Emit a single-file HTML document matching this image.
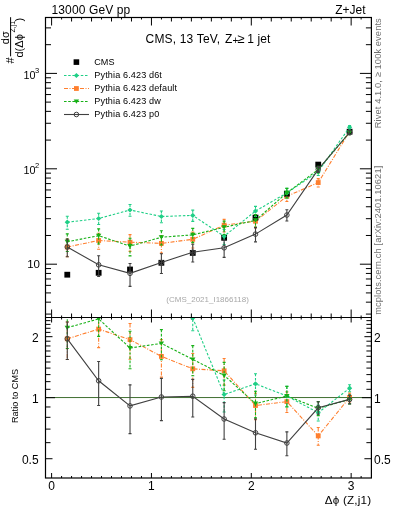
<!DOCTYPE html>
<html><head><meta charset="utf-8"><style>
html,body{margin:0;padding:0;background:#fff;width:393px;height:512px;overflow:hidden}
svg{display:block;will-change:transform}
text{font-family:"Liberation Sans", sans-serif}
</style></head><body>
<svg width="393" height="512" viewBox="0 0 393 512">
<defs>
<clipPath id="cm"><rect x="45.5" y="17.5" width="325.9" height="300.0"/></clipPath>
<clipPath id="cr"><rect x="45.5" y="317.5" width="325.9" height="160.5"/></clipPath>
</defs>
<rect width="393" height="512" fill="#fff"/>
<line x1="45.5" y1="397.55" x2="371.4" y2="397.55" stroke="#3f6f30" stroke-width="1"/>
<path d="M51.60,17.5v8M51.60,317.5v-8M51.60,317.5v5M51.60,478.0v-5M61.59,17.5v2M61.59,317.5v-2M61.59,317.5v2M61.59,478.0v-2M71.57,17.5v4M71.57,317.5v-4M71.57,317.5v2M71.57,478.0v-2M81.56,17.5v2M81.56,317.5v-2M81.56,317.5v2M81.56,478.0v-2M91.54,17.5v4M91.54,317.5v-4M91.54,317.5v2M91.54,478.0v-2M101.53,17.5v2M101.53,317.5v-2M101.53,317.5v2M101.53,478.0v-2M111.51,17.5v4M111.51,317.5v-4M111.51,317.5v2M111.51,478.0v-2M121.50,17.5v2M121.50,317.5v-2M121.50,317.5v2M121.50,478.0v-2M131.48,17.5v4M131.48,317.5v-4M131.48,317.5v2M131.48,478.0v-2M141.47,17.5v2M141.47,317.5v-2M141.47,317.5v2M141.47,478.0v-2M151.45,17.5v8M151.45,317.5v-8M151.45,317.5v5M151.45,478.0v-5M161.44,17.5v2M161.44,317.5v-2M161.44,317.5v2M161.44,478.0v-2M171.42,17.5v4M171.42,317.5v-4M171.42,317.5v2M171.42,478.0v-2M181.41,17.5v2M181.41,317.5v-2M181.41,317.5v2M181.41,478.0v-2M191.39,17.5v4M191.39,317.5v-4M191.39,317.5v2M191.39,478.0v-2M201.37,17.5v2M201.37,317.5v-2M201.37,317.5v2M201.37,478.0v-2M211.36,17.5v4M211.36,317.5v-4M211.36,317.5v2M211.36,478.0v-2M221.34,17.5v2M221.34,317.5v-2M221.34,317.5v2M221.34,478.0v-2M231.33,17.5v4M231.33,317.5v-4M231.33,317.5v2M231.33,478.0v-2M241.31,17.5v2M241.31,317.5v-2M241.31,317.5v2M241.31,478.0v-2M251.30,17.5v8M251.30,317.5v-8M251.30,317.5v5M251.30,478.0v-5M261.29,17.5v2M261.29,317.5v-2M261.29,317.5v2M261.29,478.0v-2M271.27,17.5v4M271.27,317.5v-4M271.27,317.5v2M271.27,478.0v-2M281.25,17.5v2M281.25,317.5v-2M281.25,317.5v2M281.25,478.0v-2M291.24,17.5v4M291.24,317.5v-4M291.24,317.5v2M291.24,478.0v-2M301.23,17.5v2M301.23,317.5v-2M301.23,317.5v2M301.23,478.0v-2M311.21,17.5v4M311.21,317.5v-4M311.21,317.5v2M311.21,478.0v-2M321.20,17.5v2M321.20,317.5v-2M321.20,317.5v2M321.20,478.0v-2M331.18,17.5v4M331.18,317.5v-4M331.18,317.5v2M331.18,478.0v-2M341.17,17.5v2M341.17,317.5v-2M341.17,317.5v2M341.17,478.0v-2M351.15,17.5v8M351.15,317.5v-8M351.15,317.5v5M351.15,478.0v-5M361.13,17.5v2M361.13,317.5v-2M361.13,317.5v2M361.13,478.0v-2M45.5,314.08h5.5M371.4,314.08h-5.5M45.5,302.16h5.5M371.4,302.16h-5.5M45.5,292.92h5.5M371.4,292.92h-5.5M45.5,285.36h5.5M371.4,285.36h-5.5M45.5,278.98h5.5M371.4,278.98h-5.5M45.5,273.45h5.5M371.4,273.45h-5.5M45.5,268.57h5.5M371.4,268.57h-5.5M45.5,264.20h11.5M371.4,264.20h-11.5M45.5,235.48h5.5M371.4,235.48h-5.5M45.5,218.68h5.5M371.4,218.68h-5.5M45.5,206.76h5.5M371.4,206.76h-5.5M45.5,197.52h5.5M371.4,197.52h-5.5M45.5,189.96h5.5M371.4,189.96h-5.5M45.5,183.58h5.5M371.4,183.58h-5.5M45.5,178.05h5.5M371.4,178.05h-5.5M45.5,173.17h5.5M371.4,173.17h-5.5M45.5,168.80h11.5M371.4,168.80h-11.5M45.5,140.08h5.5M371.4,140.08h-5.5M45.5,123.28h5.5M371.4,123.28h-5.5M45.5,111.36h5.5M371.4,111.36h-5.5M45.5,102.12h5.5M371.4,102.12h-5.5M45.5,94.56h5.5M371.4,94.56h-5.5M45.5,88.18h5.5M371.4,88.18h-5.5M45.5,82.65h5.5M371.4,82.65h-5.5M45.5,77.77h5.5M371.4,77.77h-5.5M45.5,73.40h11.5M371.4,73.40h-11.5M45.5,44.68h5.5M371.4,44.68h-5.5M45.5,27.88h5.5M371.4,27.88h-5.5M45.5,458.72h7M371.4,458.72h-7M45.5,442.67h5M371.4,442.67h-5M45.5,429.10h5M371.4,429.10h-5M45.5,417.34h5M371.4,417.34h-5M45.5,406.98h5M371.4,406.98h-5M45.5,397.70h9.5M371.4,397.70h-9.5M45.5,389.31h5M371.4,389.31h-5M45.5,381.65h5M371.4,381.65h-5M45.5,374.60h5M371.4,374.60h-5M45.5,368.08h5M371.4,368.08h-5M45.5,362.01h5M371.4,362.01h-5M45.5,356.32h5M371.4,356.32h-5M45.5,350.99h5M371.4,350.99h-5M45.5,345.96h5M371.4,345.96h-5M45.5,341.20h5M371.4,341.20h-5M45.5,336.68h7M371.4,336.68h-7M45.5,332.39h5M371.4,332.39h-5M45.5,328.29h5M371.4,328.29h-5M45.5,324.38h5M371.4,324.38h-5M45.5,320.63h5M371.4,320.63h-5" stroke="#000" stroke-width="1" fill="none"/>
<g clip-path="url(#cm)">
<polyline points="67.28,246.98 98.65,240.51 130.02,242.16 161.39,243.36 192.76,239.30 224.13,225.14 255.50,221.27 286.87,196.30 318.23,182.58 349.60,131.56" fill="none" stroke="#ff7f2e" stroke-width="1.1" stroke-dasharray="4,1.5,1,1.5"/>
<line x1="67.28" y1="239.08" x2="67.28" y2="256.75" stroke="#ff7f2e" stroke-width="1.1" stroke-dasharray="4,1.5,1,1.5"/>
<line x1="65.78" y1="239.08" x2="68.78" y2="239.08" stroke="#ff7f2e" stroke-width="1.1"/>
<line x1="65.78" y1="256.75" x2="68.78" y2="256.75" stroke="#ff7f2e" stroke-width="1.1"/>
<rect x="64.88" y="244.58" width="4.80" height="4.80" fill="#ff7f2e"/>
<line x1="98.65" y1="233.31" x2="98.65" y2="249.24" stroke="#ff7f2e" stroke-width="1.1" stroke-dasharray="4,1.5,1,1.5"/>
<line x1="97.15" y1="233.31" x2="100.15" y2="233.31" stroke="#ff7f2e" stroke-width="1.1"/>
<line x1="97.15" y1="249.24" x2="100.15" y2="249.24" stroke="#ff7f2e" stroke-width="1.1"/>
<rect x="96.25" y="238.11" width="4.80" height="4.80" fill="#ff7f2e"/>
<line x1="130.02" y1="234.60" x2="130.02" y2="251.40" stroke="#ff7f2e" stroke-width="1.1" stroke-dasharray="4,1.5,1,1.5"/>
<line x1="128.52" y1="234.60" x2="131.52" y2="234.60" stroke="#ff7f2e" stroke-width="1.1"/>
<line x1="128.52" y1="251.40" x2="131.52" y2="251.40" stroke="#ff7f2e" stroke-width="1.1"/>
<rect x="127.62" y="239.76" width="4.80" height="4.80" fill="#ff7f2e"/>
<line x1="161.39" y1="235.46" x2="161.39" y2="253.13" stroke="#ff7f2e" stroke-width="1.1" stroke-dasharray="4,1.5,1,1.5"/>
<line x1="159.89" y1="235.46" x2="162.89" y2="235.46" stroke="#ff7f2e" stroke-width="1.1"/>
<line x1="159.89" y1="253.13" x2="162.89" y2="253.13" stroke="#ff7f2e" stroke-width="1.1"/>
<rect x="158.99" y="240.96" width="4.80" height="4.80" fill="#ff7f2e"/>
<line x1="192.76" y1="232.09" x2="192.76" y2="248.03" stroke="#ff7f2e" stroke-width="1.1" stroke-dasharray="4,1.5,1,1.5"/>
<line x1="191.26" y1="232.09" x2="194.26" y2="232.09" stroke="#ff7f2e" stroke-width="1.1"/>
<line x1="191.26" y1="248.03" x2="194.26" y2="248.03" stroke="#ff7f2e" stroke-width="1.1"/>
<rect x="190.36" y="236.90" width="4.80" height="4.80" fill="#ff7f2e"/>
<line x1="224.13" y1="219.35" x2="224.13" y2="231.87" stroke="#ff7f2e" stroke-width="1.1" stroke-dasharray="4,1.5,1,1.5"/>
<line x1="222.63" y1="219.35" x2="225.63" y2="219.35" stroke="#ff7f2e" stroke-width="1.1"/>
<line x1="222.63" y1="231.87" x2="225.63" y2="231.87" stroke="#ff7f2e" stroke-width="1.1"/>
<rect x="221.73" y="222.74" width="4.80" height="4.80" fill="#ff7f2e"/>
<line x1="255.50" y1="215.48" x2="255.50" y2="228.00" stroke="#ff7f2e" stroke-width="1.1" stroke-dasharray="4,1.5,1,1.5"/>
<line x1="254.00" y1="215.48" x2="257.00" y2="215.48" stroke="#ff7f2e" stroke-width="1.1"/>
<line x1="254.00" y1="228.00" x2="257.00" y2="228.00" stroke="#ff7f2e" stroke-width="1.1"/>
<rect x="253.10" y="218.87" width="4.80" height="4.80" fill="#ff7f2e"/>
<line x1="286.87" y1="191.72" x2="286.87" y2="201.46" stroke="#ff7f2e" stroke-width="1.1" stroke-dasharray="4,1.5,1,1.5"/>
<line x1="285.37" y1="191.72" x2="288.37" y2="191.72" stroke="#ff7f2e" stroke-width="1.1"/>
<line x1="285.37" y1="201.46" x2="288.37" y2="201.46" stroke="#ff7f2e" stroke-width="1.1"/>
<rect x="284.47" y="193.90" width="4.80" height="4.80" fill="#ff7f2e"/>
<line x1="318.23" y1="178.63" x2="318.23" y2="186.94" stroke="#ff7f2e" stroke-width="1.1" stroke-dasharray="4,1.5,1,1.5"/>
<line x1="316.73" y1="178.63" x2="319.73" y2="178.63" stroke="#ff7f2e" stroke-width="1.1"/>
<line x1="316.73" y1="186.94" x2="319.73" y2="186.94" stroke="#ff7f2e" stroke-width="1.1"/>
<rect x="315.83" y="180.18" width="4.80" height="4.80" fill="#ff7f2e"/>
<line x1="349.60" y1="129.54" x2="349.60" y2="133.68" stroke="#ff7f2e" stroke-width="1.1" stroke-dasharray="4,1.5,1,1.5"/>
<line x1="348.10" y1="129.54" x2="351.10" y2="129.54" stroke="#ff7f2e" stroke-width="1.1"/>
<line x1="348.10" y1="133.68" x2="351.10" y2="133.68" stroke="#ff7f2e" stroke-width="1.1"/>
<rect x="347.20" y="129.16" width="4.80" height="4.80" fill="#ff7f2e"/>
</g>
<g clip-path="url(#cm)">
<line x1="67.28" y1="272.68" x2="67.28" y2="276.83" stroke="#000" stroke-width="1.1"/>
<rect x="64.38" y="271.80" width="5.8" height="5.8" fill="#000"/>
<line x1="98.65" y1="270.78" x2="98.65" y2="274.93" stroke="#000" stroke-width="1.1"/>
<rect x="95.75" y="269.90" width="5.8" height="5.8" fill="#000"/>
<line x1="130.02" y1="267.48" x2="130.02" y2="271.63" stroke="#000" stroke-width="1.1"/>
<rect x="127.12" y="266.60" width="5.8" height="5.8" fill="#000"/>
<line x1="161.39" y1="260.78" x2="161.39" y2="264.93" stroke="#000" stroke-width="1.1"/>
<rect x="158.49" y="259.90" width="5.8" height="5.8" fill="#000"/>
<line x1="192.76" y1="250.88" x2="192.76" y2="255.03" stroke="#000" stroke-width="1.1"/>
<rect x="189.86" y="250.00" width="5.8" height="5.8" fill="#000"/>
<line x1="224.13" y1="235.78" x2="224.13" y2="239.93" stroke="#000" stroke-width="1.1"/>
<rect x="221.23" y="234.90" width="5.8" height="5.8" fill="#000"/>
<line x1="255.50" y1="215.58" x2="255.50" y2="219.73" stroke="#000" stroke-width="1.1"/>
<rect x="252.60" y="214.70" width="5.8" height="5.8" fill="#000"/>
<line x1="286.87" y1="191.68" x2="286.87" y2="195.83" stroke="#000" stroke-width="1.1"/>
<rect x="283.97" y="190.80" width="5.8" height="5.8" fill="#000"/>
<line x1="318.23" y1="162.58" x2="318.23" y2="166.73" stroke="#000" stroke-width="1.1"/>
<rect x="315.33" y="161.70" width="5.8" height="5.8" fill="#000"/>
<line x1="349.60" y1="129.68" x2="349.60" y2="133.83" stroke="#000" stroke-width="1.1"/>
<rect x="346.70" y="128.80" width="5.8" height="5.8" fill="#000"/>
</g>
<g clip-path="url(#cm)">
<polyline points="67.28,222.20 98.65,218.50 130.02,210.00 161.39,216.50 192.76,215.39 224.13,236.29 255.50,211.06 286.87,192.90 318.23,171.66 349.60,127.23" fill="none" stroke="#1fcf86" stroke-width="1.1" stroke-dasharray="2.5,1.7"/>
<line x1="67.28" y1="216.23" x2="67.28" y2="229.18" stroke="#1fcf86" stroke-width="1.1" stroke-dasharray="2.5,1.7"/>
<line x1="65.78" y1="216.23" x2="68.78" y2="216.23" stroke="#1fcf86" stroke-width="1.1"/>
<line x1="65.78" y1="229.18" x2="68.78" y2="229.18" stroke="#1fcf86" stroke-width="1.1"/>
<path d="M67.28,219.60 L69.88,222.20 L67.28,224.80 L64.68,222.20Z" fill="#1fcf86"/>
<line x1="98.65" y1="213.25" x2="98.65" y2="224.51" stroke="#1fcf86" stroke-width="1.1" stroke-dasharray="2.5,1.7"/>
<line x1="97.15" y1="213.25" x2="100.15" y2="213.25" stroke="#1fcf86" stroke-width="1.1"/>
<line x1="97.15" y1="224.51" x2="100.15" y2="224.51" stroke="#1fcf86" stroke-width="1.1"/>
<path d="M98.65,215.90 L101.25,218.50 L98.65,221.10 L96.05,218.50Z" fill="#1fcf86"/>
<line x1="130.02" y1="204.57" x2="130.02" y2="216.25" stroke="#1fcf86" stroke-width="1.1" stroke-dasharray="2.5,1.7"/>
<line x1="128.52" y1="204.57" x2="131.52" y2="204.57" stroke="#1fcf86" stroke-width="1.1"/>
<line x1="128.52" y1="216.25" x2="131.52" y2="216.25" stroke="#1fcf86" stroke-width="1.1"/>
<path d="M130.02,207.40 L132.62,210.00 L130.02,212.60 L127.42,210.00Z" fill="#1fcf86"/>
<line x1="161.39" y1="211.07" x2="161.39" y2="222.75" stroke="#1fcf86" stroke-width="1.1" stroke-dasharray="2.5,1.7"/>
<line x1="159.89" y1="211.07" x2="162.89" y2="211.07" stroke="#1fcf86" stroke-width="1.1"/>
<line x1="159.89" y1="222.75" x2="162.89" y2="222.75" stroke="#1fcf86" stroke-width="1.1"/>
<path d="M161.39,213.90 L163.99,216.50 L161.39,219.10 L158.79,216.50Z" fill="#1fcf86"/>
<line x1="192.76" y1="210.14" x2="192.76" y2="221.40" stroke="#1fcf86" stroke-width="1.1" stroke-dasharray="2.5,1.7"/>
<line x1="191.26" y1="210.14" x2="194.26" y2="210.14" stroke="#1fcf86" stroke-width="1.1"/>
<line x1="191.26" y1="221.40" x2="194.26" y2="221.40" stroke="#1fcf86" stroke-width="1.1"/>
<path d="M192.76,212.79 L195.36,215.39 L192.76,217.99 L190.16,215.39Z" fill="#1fcf86"/>
<line x1="224.13" y1="229.44" x2="224.13" y2="244.52" stroke="#1fcf86" stroke-width="1.1" stroke-dasharray="2.5,1.7"/>
<line x1="222.63" y1="229.44" x2="225.63" y2="229.44" stroke="#1fcf86" stroke-width="1.1"/>
<line x1="222.63" y1="244.52" x2="225.63" y2="244.52" stroke="#1fcf86" stroke-width="1.1"/>
<path d="M224.13,233.69 L226.73,236.29 L224.13,238.89 L221.53,236.29Z" fill="#1fcf86"/>
<line x1="255.50" y1="206.36" x2="255.50" y2="216.35" stroke="#1fcf86" stroke-width="1.1" stroke-dasharray="2.5,1.7"/>
<line x1="254.00" y1="206.36" x2="257.00" y2="206.36" stroke="#1fcf86" stroke-width="1.1"/>
<line x1="254.00" y1="216.35" x2="257.00" y2="216.35" stroke="#1fcf86" stroke-width="1.1"/>
<path d="M255.50,208.46 L258.10,211.06 L255.50,213.66 L252.90,211.06Z" fill="#1fcf86"/>
<line x1="286.87" y1="188.39" x2="286.87" y2="197.96" stroke="#1fcf86" stroke-width="1.1" stroke-dasharray="2.5,1.7"/>
<line x1="285.37" y1="188.39" x2="288.37" y2="188.39" stroke="#1fcf86" stroke-width="1.1"/>
<line x1="285.37" y1="197.96" x2="288.37" y2="197.96" stroke="#1fcf86" stroke-width="1.1"/>
<path d="M286.87,190.30 L289.47,192.90 L286.87,195.50 L284.27,192.90Z" fill="#1fcf86"/>
<line x1="318.23" y1="168.09" x2="318.23" y2="175.57" stroke="#1fcf86" stroke-width="1.1" stroke-dasharray="2.5,1.7"/>
<line x1="316.73" y1="168.09" x2="319.73" y2="168.09" stroke="#1fcf86" stroke-width="1.1"/>
<line x1="316.73" y1="175.57" x2="319.73" y2="175.57" stroke="#1fcf86" stroke-width="1.1"/>
<path d="M318.23,169.06 L320.83,171.66 L318.23,174.26 L315.63,171.66Z" fill="#1fcf86"/>
<line x1="349.60" y1="125.60" x2="349.60" y2="128.92" stroke="#1fcf86" stroke-width="1.1" stroke-dasharray="2.5,1.7"/>
<line x1="348.10" y1="125.60" x2="351.10" y2="125.60" stroke="#1fcf86" stroke-width="1.1"/>
<line x1="348.10" y1="128.92" x2="351.10" y2="128.92" stroke="#1fcf86" stroke-width="1.1"/>
<path d="M349.60,124.63 L352.20,127.23 L349.60,129.83 L347.00,127.23Z" fill="#1fcf86"/>
</g>
<g clip-path="url(#cm)">
<polyline points="67.28,241.75 98.65,235.71 130.02,246.11 161.39,237.24 192.76,234.87 224.13,227.30 255.50,220.38 286.87,192.90 318.23,169.59 349.60,132.50" fill="none" stroke="#16b016" stroke-width="1.1" stroke-dasharray="2.6,1.6"/>
<line x1="67.28" y1="233.86" x2="67.28" y2="251.52" stroke="#16b016" stroke-width="1.1" stroke-dasharray="2.6,1.6"/>
<line x1="65.78" y1="233.86" x2="68.78" y2="233.86" stroke="#16b016" stroke-width="1.1"/>
<line x1="65.78" y1="251.52" x2="68.78" y2="251.52" stroke="#16b016" stroke-width="1.1"/>
<path d="M64.58,239.73 L69.98,239.73 L67.28,244.05Z" fill="#16b016"/>
<line x1="98.65" y1="228.86" x2="98.65" y2="243.94" stroke="#16b016" stroke-width="1.1" stroke-dasharray="2.6,1.6"/>
<line x1="97.15" y1="228.86" x2="100.15" y2="228.86" stroke="#16b016" stroke-width="1.1"/>
<line x1="97.15" y1="243.94" x2="100.15" y2="243.94" stroke="#16b016" stroke-width="1.1"/>
<path d="M95.95,233.69 L101.35,233.69 L98.65,238.01Z" fill="#16b016"/>
<line x1="130.02" y1="238.21" x2="130.02" y2="255.88" stroke="#16b016" stroke-width="1.1" stroke-dasharray="2.6,1.6"/>
<line x1="128.52" y1="238.21" x2="131.52" y2="238.21" stroke="#16b016" stroke-width="1.1"/>
<line x1="128.52" y1="255.88" x2="131.52" y2="255.88" stroke="#16b016" stroke-width="1.1"/>
<path d="M127.32,244.08 L132.72,244.08 L130.02,248.40Z" fill="#16b016"/>
<line x1="161.39" y1="230.74" x2="161.39" y2="244.96" stroke="#16b016" stroke-width="1.1" stroke-dasharray="2.6,1.6"/>
<line x1="159.89" y1="230.74" x2="162.89" y2="230.74" stroke="#16b016" stroke-width="1.1"/>
<line x1="159.89" y1="244.96" x2="162.89" y2="244.96" stroke="#16b016" stroke-width="1.1"/>
<path d="M158.69,235.22 L164.09,235.22 L161.39,239.54Z" fill="#16b016"/>
<line x1="192.76" y1="228.37" x2="192.76" y2="242.59" stroke="#16b016" stroke-width="1.1" stroke-dasharray="2.6,1.6"/>
<line x1="191.26" y1="228.37" x2="194.26" y2="228.37" stroke="#16b016" stroke-width="1.1"/>
<line x1="191.26" y1="242.59" x2="194.26" y2="242.59" stroke="#16b016" stroke-width="1.1"/>
<path d="M190.06,232.85 L195.46,232.85 L192.76,237.17Z" fill="#16b016"/>
<line x1="224.13" y1="221.16" x2="224.13" y2="234.53" stroke="#16b016" stroke-width="1.1" stroke-dasharray="2.6,1.6"/>
<line x1="222.63" y1="221.16" x2="225.63" y2="221.16" stroke="#16b016" stroke-width="1.1"/>
<line x1="222.63" y1="234.53" x2="225.63" y2="234.53" stroke="#16b016" stroke-width="1.1"/>
<path d="M221.43,225.28 L226.83,225.28 L224.13,229.60Z" fill="#16b016"/>
<line x1="255.50" y1="214.59" x2="255.50" y2="227.11" stroke="#16b016" stroke-width="1.1" stroke-dasharray="2.6,1.6"/>
<line x1="254.00" y1="214.59" x2="257.00" y2="214.59" stroke="#16b016" stroke-width="1.1"/>
<line x1="254.00" y1="227.11" x2="257.00" y2="227.11" stroke="#16b016" stroke-width="1.1"/>
<path d="M252.80,218.35 L258.20,218.35 L255.50,222.67Z" fill="#16b016"/>
<line x1="286.87" y1="188.35" x2="286.87" y2="198.01" stroke="#16b016" stroke-width="1.1" stroke-dasharray="2.6,1.6"/>
<line x1="285.37" y1="188.35" x2="288.37" y2="188.35" stroke="#16b016" stroke-width="1.1"/>
<line x1="285.37" y1="198.01" x2="288.37" y2="198.01" stroke="#16b016" stroke-width="1.1"/>
<path d="M284.17,190.87 L289.57,190.87 L286.87,195.19Z" fill="#16b016"/>
<line x1="318.23" y1="166.40" x2="318.23" y2="173.04" stroke="#16b016" stroke-width="1.1" stroke-dasharray="2.6,1.6"/>
<line x1="316.73" y1="166.40" x2="319.73" y2="166.40" stroke="#16b016" stroke-width="1.1"/>
<line x1="316.73" y1="173.04" x2="319.73" y2="173.04" stroke="#16b016" stroke-width="1.1"/>
<path d="M315.53,167.56 L320.93,167.56 L318.23,171.88Z" fill="#16b016"/>
<line x1="349.60" y1="130.48" x2="349.60" y2="134.63" stroke="#16b016" stroke-width="1.1" stroke-dasharray="2.6,1.6"/>
<line x1="348.10" y1="130.48" x2="351.10" y2="130.48" stroke="#16b016" stroke-width="1.1"/>
<line x1="348.10" y1="134.63" x2="351.10" y2="134.63" stroke="#16b016" stroke-width="1.1"/>
<path d="M346.90,130.48 L352.30,130.48 L349.60,134.80Z" fill="#16b016"/>
</g>
<g clip-path="url(#cm)">
<polyline points="67.28,246.98 98.65,264.85 130.02,273.36 161.39,262.47 192.76,252.19 224.13,247.82 255.50,234.12 286.87,215.02 318.23,169.35 349.60,132.50" fill="none" stroke="#404040" stroke-width="1.1"/>
<line x1="67.28" y1="239.08" x2="67.28" y2="256.75" stroke="#404040" stroke-width="1.1"/>
<line x1="65.78" y1="239.08" x2="68.78" y2="239.08" stroke="#404040" stroke-width="1.1"/>
<line x1="65.78" y1="256.75" x2="68.78" y2="256.75" stroke="#404040" stroke-width="1.1"/>
<circle cx="67.28" cy="246.98" r="2.30" fill="none" stroke="#404040" stroke-width="1"/>
<line x1="98.65" y1="255.77" x2="98.65" y2="276.49" stroke="#404040" stroke-width="1.1"/>
<line x1="97.15" y1="255.77" x2="100.15" y2="255.77" stroke="#404040" stroke-width="1.1"/>
<line x1="97.15" y1="276.49" x2="100.15" y2="276.49" stroke="#404040" stroke-width="1.1"/>
<circle cx="98.65" cy="264.85" r="2.30" fill="none" stroke="#404040" stroke-width="1"/>
<line x1="130.02" y1="263.46" x2="130.02" y2="286.40" stroke="#404040" stroke-width="1.1"/>
<line x1="128.52" y1="263.46" x2="131.52" y2="263.46" stroke="#404040" stroke-width="1.1"/>
<line x1="128.52" y1="286.40" x2="131.52" y2="286.40" stroke="#404040" stroke-width="1.1"/>
<circle cx="130.02" cy="273.36" r="2.30" fill="none" stroke="#404040" stroke-width="1"/>
<line x1="161.39" y1="253.73" x2="161.39" y2="273.57" stroke="#404040" stroke-width="1.1"/>
<line x1="159.89" y1="253.73" x2="162.89" y2="253.73" stroke="#404040" stroke-width="1.1"/>
<line x1="159.89" y1="273.57" x2="162.89" y2="273.57" stroke="#404040" stroke-width="1.1"/>
<circle cx="161.39" cy="262.47" r="2.30" fill="none" stroke="#404040" stroke-width="1"/>
<line x1="192.76" y1="244.30" x2="192.76" y2="261.96" stroke="#404040" stroke-width="1.1"/>
<line x1="191.26" y1="244.30" x2="194.26" y2="244.30" stroke="#404040" stroke-width="1.1"/>
<line x1="191.26" y1="261.96" x2="194.26" y2="261.96" stroke="#404040" stroke-width="1.1"/>
<circle cx="192.76" cy="252.19" r="2.30" fill="none" stroke="#404040" stroke-width="1"/>
<line x1="224.13" y1="240.10" x2="224.13" y2="257.33" stroke="#404040" stroke-width="1.1"/>
<line x1="222.63" y1="240.10" x2="225.63" y2="240.10" stroke="#404040" stroke-width="1.1"/>
<line x1="222.63" y1="257.33" x2="225.63" y2="257.33" stroke="#404040" stroke-width="1.1"/>
<circle cx="224.13" cy="247.82" r="2.30" fill="none" stroke="#404040" stroke-width="1"/>
<line x1="255.50" y1="227.61" x2="255.50" y2="241.84" stroke="#404040" stroke-width="1.1"/>
<line x1="254.00" y1="227.61" x2="257.00" y2="227.61" stroke="#404040" stroke-width="1.1"/>
<line x1="254.00" y1="241.84" x2="257.00" y2="241.84" stroke="#404040" stroke-width="1.1"/>
<circle cx="255.50" cy="234.12" r="2.30" fill="none" stroke="#404040" stroke-width="1"/>
<line x1="286.87" y1="209.77" x2="286.87" y2="221.03" stroke="#404040" stroke-width="1.1"/>
<line x1="285.37" y1="209.77" x2="288.37" y2="209.77" stroke="#404040" stroke-width="1.1"/>
<line x1="285.37" y1="221.03" x2="288.37" y2="221.03" stroke="#404040" stroke-width="1.1"/>
<circle cx="286.87" cy="215.02" r="2.30" fill="none" stroke="#404040" stroke-width="1"/>
<line x1="318.23" y1="166.55" x2="318.23" y2="172.36" stroke="#404040" stroke-width="1.1"/>
<line x1="316.73" y1="166.55" x2="319.73" y2="166.55" stroke="#404040" stroke-width="1.1"/>
<line x1="316.73" y1="172.36" x2="319.73" y2="172.36" stroke="#404040" stroke-width="1.1"/>
<circle cx="318.23" cy="169.35" r="2.30" fill="none" stroke="#404040" stroke-width="1"/>
<line x1="349.60" y1="130.48" x2="349.60" y2="134.63" stroke="#404040" stroke-width="1.1"/>
<line x1="348.10" y1="130.48" x2="351.10" y2="130.48" stroke="#404040" stroke-width="1.1"/>
<line x1="348.10" y1="134.63" x2="351.10" y2="134.63" stroke="#404040" stroke-width="1.1"/>
<circle cx="349.60" cy="132.50" r="2.30" fill="none" stroke="#404040" stroke-width="1"/>
</g>
<g clip-path="url(#cr)">
<polyline points="67.28,338.80 98.65,329.10 130.02,339.60 161.39,356.40 192.76,368.80 224.13,370.80 255.50,405.50 286.87,401.60 318.23,435.90 349.60,397.40" fill="none" stroke="#ff7f2e" stroke-width="1.1" stroke-dasharray="4,1.5,1,1.5"/>
<line x1="67.28" y1="322.02" x2="67.28" y2="359.55" stroke="#ff7f2e" stroke-width="1.1" stroke-dasharray="4,1.5,1,1.5"/>
<line x1="65.78" y1="322.02" x2="68.78" y2="322.02" stroke="#ff7f2e" stroke-width="1.1"/>
<line x1="65.78" y1="359.55" x2="68.78" y2="359.55" stroke="#ff7f2e" stroke-width="1.1"/>
<rect x="64.88" y="336.40" width="4.80" height="4.80" fill="#ff7f2e"/>
<line x1="98.65" y1="313.79" x2="98.65" y2="347.65" stroke="#ff7f2e" stroke-width="1.1" stroke-dasharray="4,1.5,1,1.5"/>
<line x1="97.15" y1="313.79" x2="100.15" y2="313.79" stroke="#ff7f2e" stroke-width="1.1"/>
<line x1="97.15" y1="347.65" x2="100.15" y2="347.65" stroke="#ff7f2e" stroke-width="1.1"/>
<rect x="96.25" y="326.70" width="4.80" height="4.80" fill="#ff7f2e"/>
<line x1="130.02" y1="323.55" x2="130.02" y2="359.24" stroke="#ff7f2e" stroke-width="1.1" stroke-dasharray="4,1.5,1,1.5"/>
<line x1="128.52" y1="323.55" x2="131.52" y2="323.55" stroke="#ff7f2e" stroke-width="1.1"/>
<line x1="128.52" y1="359.24" x2="131.52" y2="359.24" stroke="#ff7f2e" stroke-width="1.1"/>
<rect x="127.62" y="337.20" width="4.80" height="4.80" fill="#ff7f2e"/>
<line x1="161.39" y1="339.62" x2="161.39" y2="377.15" stroke="#ff7f2e" stroke-width="1.1" stroke-dasharray="4,1.5,1,1.5"/>
<line x1="159.89" y1="339.62" x2="162.89" y2="339.62" stroke="#ff7f2e" stroke-width="1.1"/>
<line x1="159.89" y1="377.15" x2="162.89" y2="377.15" stroke="#ff7f2e" stroke-width="1.1"/>
<rect x="158.99" y="354.00" width="4.80" height="4.80" fill="#ff7f2e"/>
<line x1="192.76" y1="353.49" x2="192.76" y2="387.35" stroke="#ff7f2e" stroke-width="1.1" stroke-dasharray="4,1.5,1,1.5"/>
<line x1="191.26" y1="353.49" x2="194.26" y2="353.49" stroke="#ff7f2e" stroke-width="1.1"/>
<line x1="191.26" y1="387.35" x2="194.26" y2="387.35" stroke="#ff7f2e" stroke-width="1.1"/>
<rect x="190.36" y="366.40" width="4.80" height="4.80" fill="#ff7f2e"/>
<line x1="224.13" y1="358.50" x2="224.13" y2="385.11" stroke="#ff7f2e" stroke-width="1.1" stroke-dasharray="4,1.5,1,1.5"/>
<line x1="222.63" y1="358.50" x2="225.63" y2="358.50" stroke="#ff7f2e" stroke-width="1.1"/>
<line x1="222.63" y1="385.11" x2="225.63" y2="385.11" stroke="#ff7f2e" stroke-width="1.1"/>
<rect x="221.73" y="368.40" width="4.80" height="4.80" fill="#ff7f2e"/>
<line x1="255.50" y1="393.20" x2="255.50" y2="419.81" stroke="#ff7f2e" stroke-width="1.1" stroke-dasharray="4,1.5,1,1.5"/>
<line x1="254.00" y1="393.20" x2="257.00" y2="393.20" stroke="#ff7f2e" stroke-width="1.1"/>
<line x1="254.00" y1="419.81" x2="257.00" y2="419.81" stroke="#ff7f2e" stroke-width="1.1"/>
<rect x="253.10" y="403.10" width="4.80" height="4.80" fill="#ff7f2e"/>
<line x1="286.87" y1="391.86" x2="286.87" y2="412.55" stroke="#ff7f2e" stroke-width="1.1" stroke-dasharray="4,1.5,1,1.5"/>
<line x1="285.37" y1="391.86" x2="288.37" y2="391.86" stroke="#ff7f2e" stroke-width="1.1"/>
<line x1="285.37" y1="412.55" x2="288.37" y2="412.55" stroke="#ff7f2e" stroke-width="1.1"/>
<rect x="284.47" y="399.20" width="4.80" height="4.80" fill="#ff7f2e"/>
<line x1="318.23" y1="427.51" x2="318.23" y2="445.18" stroke="#ff7f2e" stroke-width="1.1" stroke-dasharray="4,1.5,1,1.5"/>
<line x1="316.73" y1="427.51" x2="319.73" y2="427.51" stroke="#ff7f2e" stroke-width="1.1"/>
<line x1="316.73" y1="445.18" x2="319.73" y2="445.18" stroke="#ff7f2e" stroke-width="1.1"/>
<rect x="315.83" y="433.50" width="4.80" height="4.80" fill="#ff7f2e"/>
<line x1="349.60" y1="393.10" x2="349.60" y2="401.92" stroke="#ff7f2e" stroke-width="1.1" stroke-dasharray="4,1.5,1,1.5"/>
<line x1="348.10" y1="393.10" x2="351.10" y2="393.10" stroke="#ff7f2e" stroke-width="1.1"/>
<line x1="348.10" y1="401.92" x2="351.10" y2="401.92" stroke="#ff7f2e" stroke-width="1.1"/>
<rect x="347.20" y="395.00" width="4.80" height="4.80" fill="#ff7f2e"/>
</g>
<g clip-path="url(#cr)">
<polyline points="192.76,318.00 224.13,394.50 255.50,383.80 286.87,396.00 318.23,412.70 349.60,388.20" fill="none" stroke="#1fcf86" stroke-width="1.1" stroke-dasharray="2.5,1.7"/>
<line x1="192.76" y1="306.85" x2="192.76" y2="330.77" stroke="#1fcf86" stroke-width="1.1" stroke-dasharray="2.5,1.7"/>
<line x1="191.26" y1="306.85" x2="194.26" y2="306.85" stroke="#1fcf86" stroke-width="1.1"/>
<line x1="191.26" y1="330.77" x2="194.26" y2="330.77" stroke="#1fcf86" stroke-width="1.1"/>
<path d="M192.76,315.40 L195.36,318.00 L192.76,320.60 L190.16,318.00Z" fill="#1fcf86"/>
<line x1="224.13" y1="379.93" x2="224.13" y2="411.97" stroke="#1fcf86" stroke-width="1.1" stroke-dasharray="2.5,1.7"/>
<line x1="222.63" y1="379.93" x2="225.63" y2="379.93" stroke="#1fcf86" stroke-width="1.1"/>
<line x1="222.63" y1="411.97" x2="225.63" y2="411.97" stroke="#1fcf86" stroke-width="1.1"/>
<path d="M224.13,391.90 L226.73,394.50 L224.13,397.10 L221.53,394.50Z" fill="#1fcf86"/>
<line x1="255.50" y1="373.82" x2="255.50" y2="395.05" stroke="#1fcf86" stroke-width="1.1" stroke-dasharray="2.5,1.7"/>
<line x1="254.00" y1="373.82" x2="257.00" y2="373.82" stroke="#1fcf86" stroke-width="1.1"/>
<line x1="254.00" y1="395.05" x2="257.00" y2="395.05" stroke="#1fcf86" stroke-width="1.1"/>
<path d="M255.50,381.20 L258.10,383.80 L255.50,386.40 L252.90,383.80Z" fill="#1fcf86"/>
<line x1="286.87" y1="386.42" x2="286.87" y2="406.75" stroke="#1fcf86" stroke-width="1.1" stroke-dasharray="2.5,1.7"/>
<line x1="285.37" y1="386.42" x2="288.37" y2="386.42" stroke="#1fcf86" stroke-width="1.1"/>
<line x1="285.37" y1="406.75" x2="288.37" y2="406.75" stroke="#1fcf86" stroke-width="1.1"/>
<path d="M286.87,393.40 L289.47,396.00 L286.87,398.60 L284.27,396.00Z" fill="#1fcf86"/>
<line x1="318.23" y1="405.11" x2="318.23" y2="421.00" stroke="#1fcf86" stroke-width="1.1" stroke-dasharray="2.5,1.7"/>
<line x1="316.73" y1="405.11" x2="319.73" y2="405.11" stroke="#1fcf86" stroke-width="1.1"/>
<line x1="316.73" y1="421.00" x2="319.73" y2="421.00" stroke="#1fcf86" stroke-width="1.1"/>
<path d="M318.23,410.10 L320.83,412.70 L318.23,415.30 L315.63,412.70Z" fill="#1fcf86"/>
<line x1="349.60" y1="384.75" x2="349.60" y2="391.79" stroke="#1fcf86" stroke-width="1.1" stroke-dasharray="2.5,1.7"/>
<line x1="348.10" y1="384.75" x2="351.10" y2="384.75" stroke="#1fcf86" stroke-width="1.1"/>
<line x1="348.10" y1="391.79" x2="351.10" y2="391.79" stroke="#1fcf86" stroke-width="1.1"/>
<path d="M349.60,385.60 L352.20,388.20 L349.60,390.80 L347.00,388.20Z" fill="#1fcf86"/>
</g>
<g clip-path="url(#cr)">
<polyline points="67.28,327.70 98.65,318.90 130.02,348.00 161.39,343.40 192.76,359.40 224.13,375.40 255.50,403.60 286.87,396.00 318.23,408.30 349.60,399.40" fill="none" stroke="#16b016" stroke-width="1.1" stroke-dasharray="2.6,1.6"/>
<line x1="67.28" y1="310.92" x2="67.28" y2="348.45" stroke="#16b016" stroke-width="1.1" stroke-dasharray="2.6,1.6"/>
<line x1="65.78" y1="310.92" x2="68.78" y2="310.92" stroke="#16b016" stroke-width="1.1"/>
<line x1="65.78" y1="348.45" x2="68.78" y2="348.45" stroke="#16b016" stroke-width="1.1"/>
<path d="M64.58,325.68 L69.98,325.68 L67.28,330.00Z" fill="#16b016"/>
<line x1="98.65" y1="304.33" x2="98.65" y2="336.37" stroke="#16b016" stroke-width="1.1" stroke-dasharray="2.6,1.6"/>
<line x1="97.15" y1="304.33" x2="100.15" y2="304.33" stroke="#16b016" stroke-width="1.1"/>
<line x1="97.15" y1="336.37" x2="100.15" y2="336.37" stroke="#16b016" stroke-width="1.1"/>
<path d="M95.95,316.88 L101.35,316.88 L98.65,321.19Z" fill="#16b016"/>
<line x1="130.02" y1="331.22" x2="130.02" y2="368.75" stroke="#16b016" stroke-width="1.1" stroke-dasharray="2.6,1.6"/>
<line x1="128.52" y1="331.22" x2="131.52" y2="331.22" stroke="#16b016" stroke-width="1.1"/>
<line x1="128.52" y1="368.75" x2="131.52" y2="368.75" stroke="#16b016" stroke-width="1.1"/>
<path d="M127.32,345.98 L132.72,345.98 L130.02,350.30Z" fill="#16b016"/>
<line x1="161.39" y1="329.58" x2="161.39" y2="359.80" stroke="#16b016" stroke-width="1.1" stroke-dasharray="2.6,1.6"/>
<line x1="159.89" y1="329.58" x2="162.89" y2="329.58" stroke="#16b016" stroke-width="1.1"/>
<line x1="159.89" y1="359.80" x2="162.89" y2="359.80" stroke="#16b016" stroke-width="1.1"/>
<path d="M158.69,341.38 L164.09,341.38 L161.39,345.69Z" fill="#16b016"/>
<line x1="192.76" y1="345.58" x2="192.76" y2="375.80" stroke="#16b016" stroke-width="1.1" stroke-dasharray="2.6,1.6"/>
<line x1="191.26" y1="345.58" x2="194.26" y2="345.58" stroke="#16b016" stroke-width="1.1"/>
<line x1="191.26" y1="375.80" x2="194.26" y2="375.80" stroke="#16b016" stroke-width="1.1"/>
<path d="M190.06,357.38 L195.46,357.38 L192.76,361.69Z" fill="#16b016"/>
<line x1="224.13" y1="362.33" x2="224.13" y2="390.75" stroke="#16b016" stroke-width="1.1" stroke-dasharray="2.6,1.6"/>
<line x1="222.63" y1="362.33" x2="225.63" y2="362.33" stroke="#16b016" stroke-width="1.1"/>
<line x1="222.63" y1="390.75" x2="225.63" y2="390.75" stroke="#16b016" stroke-width="1.1"/>
<path d="M221.43,373.38 L226.83,373.38 L224.13,377.69Z" fill="#16b016"/>
<line x1="255.50" y1="391.30" x2="255.50" y2="417.91" stroke="#16b016" stroke-width="1.1" stroke-dasharray="2.6,1.6"/>
<line x1="254.00" y1="391.30" x2="257.00" y2="391.30" stroke="#16b016" stroke-width="1.1"/>
<line x1="254.00" y1="417.91" x2="257.00" y2="417.91" stroke="#16b016" stroke-width="1.1"/>
<path d="M252.80,401.58 L258.20,401.58 L255.50,405.90Z" fill="#16b016"/>
<line x1="286.87" y1="386.34" x2="286.87" y2="406.85" stroke="#16b016" stroke-width="1.1" stroke-dasharray="2.6,1.6"/>
<line x1="285.37" y1="386.34" x2="288.37" y2="386.34" stroke="#16b016" stroke-width="1.1"/>
<line x1="285.37" y1="406.85" x2="288.37" y2="406.85" stroke="#16b016" stroke-width="1.1"/>
<path d="M284.17,393.98 L289.57,393.98 L286.87,398.30Z" fill="#16b016"/>
<line x1="318.23" y1="401.53" x2="318.23" y2="415.64" stroke="#16b016" stroke-width="1.1" stroke-dasharray="2.6,1.6"/>
<line x1="316.73" y1="401.53" x2="319.73" y2="401.53" stroke="#16b016" stroke-width="1.1"/>
<line x1="316.73" y1="415.64" x2="319.73" y2="415.64" stroke="#16b016" stroke-width="1.1"/>
<path d="M315.53,406.28 L320.93,406.28 L318.23,410.60Z" fill="#16b016"/>
<line x1="349.60" y1="395.10" x2="349.60" y2="403.92" stroke="#16b016" stroke-width="1.1" stroke-dasharray="2.6,1.6"/>
<line x1="348.10" y1="395.10" x2="351.10" y2="395.10" stroke="#16b016" stroke-width="1.1"/>
<line x1="348.10" y1="403.92" x2="351.10" y2="403.92" stroke="#16b016" stroke-width="1.1"/>
<path d="M346.90,397.38 L352.30,397.38 L349.60,401.69Z" fill="#16b016"/>
</g>
<g clip-path="url(#cr)">
<polyline points="67.28,338.80 98.65,380.80 130.02,405.90 161.39,397.00 192.76,396.20 224.13,419.00 255.50,432.80 286.87,443.00 318.23,407.80 349.60,399.40" fill="none" stroke="#404040" stroke-width="1.1"/>
<line x1="67.28" y1="322.02" x2="67.28" y2="359.55" stroke="#404040" stroke-width="1.1"/>
<line x1="65.78" y1="322.02" x2="68.78" y2="322.02" stroke="#404040" stroke-width="1.1"/>
<line x1="65.78" y1="359.55" x2="68.78" y2="359.55" stroke="#404040" stroke-width="1.1"/>
<circle cx="67.28" cy="338.80" r="2.30" fill="none" stroke="#404040" stroke-width="1"/>
<line x1="98.65" y1="361.51" x2="98.65" y2="405.54" stroke="#404040" stroke-width="1.1"/>
<line x1="97.15" y1="361.51" x2="100.15" y2="361.51" stroke="#404040" stroke-width="1.1"/>
<line x1="97.15" y1="405.54" x2="100.15" y2="405.54" stroke="#404040" stroke-width="1.1"/>
<circle cx="98.65" cy="380.80" r="2.30" fill="none" stroke="#404040" stroke-width="1"/>
<line x1="130.02" y1="384.86" x2="130.02" y2="433.60" stroke="#404040" stroke-width="1.1"/>
<line x1="128.52" y1="384.86" x2="131.52" y2="384.86" stroke="#404040" stroke-width="1.1"/>
<line x1="128.52" y1="433.60" x2="131.52" y2="433.60" stroke="#404040" stroke-width="1.1"/>
<circle cx="130.02" cy="405.90" r="2.30" fill="none" stroke="#404040" stroke-width="1"/>
<line x1="161.39" y1="378.42" x2="161.39" y2="420.58" stroke="#404040" stroke-width="1.1"/>
<line x1="159.89" y1="378.42" x2="162.89" y2="378.42" stroke="#404040" stroke-width="1.1"/>
<line x1="159.89" y1="420.58" x2="162.89" y2="420.58" stroke="#404040" stroke-width="1.1"/>
<circle cx="161.39" cy="397.00" r="2.30" fill="none" stroke="#404040" stroke-width="1"/>
<line x1="192.76" y1="379.42" x2="192.76" y2="416.95" stroke="#404040" stroke-width="1.1"/>
<line x1="191.26" y1="379.42" x2="194.26" y2="379.42" stroke="#404040" stroke-width="1.1"/>
<line x1="191.26" y1="416.95" x2="194.26" y2="416.95" stroke="#404040" stroke-width="1.1"/>
<circle cx="192.76" cy="396.20" r="2.30" fill="none" stroke="#404040" stroke-width="1"/>
<line x1="224.13" y1="402.58" x2="224.13" y2="439.20" stroke="#404040" stroke-width="1.1"/>
<line x1="222.63" y1="402.58" x2="225.63" y2="402.58" stroke="#404040" stroke-width="1.1"/>
<line x1="222.63" y1="439.20" x2="225.63" y2="439.20" stroke="#404040" stroke-width="1.1"/>
<circle cx="224.13" cy="419.00" r="2.30" fill="none" stroke="#404040" stroke-width="1"/>
<line x1="255.50" y1="418.98" x2="255.50" y2="449.20" stroke="#404040" stroke-width="1.1"/>
<line x1="254.00" y1="418.98" x2="257.00" y2="418.98" stroke="#404040" stroke-width="1.1"/>
<line x1="254.00" y1="449.20" x2="257.00" y2="449.20" stroke="#404040" stroke-width="1.1"/>
<circle cx="255.50" cy="432.80" r="2.30" fill="none" stroke="#404040" stroke-width="1"/>
<line x1="286.87" y1="431.85" x2="286.87" y2="455.77" stroke="#404040" stroke-width="1.1"/>
<line x1="285.37" y1="431.85" x2="288.37" y2="431.85" stroke="#404040" stroke-width="1.1"/>
<line x1="285.37" y1="455.77" x2="288.37" y2="455.77" stroke="#404040" stroke-width="1.1"/>
<circle cx="286.87" cy="443.00" r="2.30" fill="none" stroke="#404040" stroke-width="1"/>
<line x1="318.23" y1="401.84" x2="318.23" y2="414.19" stroke="#404040" stroke-width="1.1"/>
<line x1="316.73" y1="401.84" x2="319.73" y2="401.84" stroke="#404040" stroke-width="1.1"/>
<line x1="316.73" y1="414.19" x2="319.73" y2="414.19" stroke="#404040" stroke-width="1.1"/>
<circle cx="318.23" cy="407.80" r="2.30" fill="none" stroke="#404040" stroke-width="1"/>
<line x1="349.60" y1="395.10" x2="349.60" y2="403.92" stroke="#404040" stroke-width="1.1"/>
<line x1="348.10" y1="395.10" x2="351.10" y2="395.10" stroke="#404040" stroke-width="1.1"/>
<line x1="348.10" y1="403.92" x2="351.10" y2="403.92" stroke="#404040" stroke-width="1.1"/>
<circle cx="349.60" cy="399.40" r="2.30" fill="none" stroke="#404040" stroke-width="1"/>
</g>
<rect x="45.5" y="17.5" width="325.9" height="460.5" fill="none" stroke="#000" stroke-width="1.2"/>
<line x1="45.5" y1="317.5" x2="371.4" y2="317.5" stroke="#000" stroke-width="1.2"/>
<text x="51.5" y="14" font-size="12" fill="#000" letter-spacing="0.12">13000 GeV pp</text>
<text x="365.5" y="14" font-size="12" fill="#000" text-anchor="end">Z+Jet</text>
<text y="43" font-size="12" fill="#000"><tspan x="145.6" letter-spacing="0.17">CMS, 13 TeV, </tspan><tspan x="225.0">Z</tspan><tspan x="232.4" y="44.3" font-size="10">+</tspan><tspan x="237.3" y="43" font-size="13">≥</tspan><tspan x="247.3" letter-spacing="0.1">1 jet</tspan></text>
<rect x="73.60000000000001" y="59.3" width="5.6" height="5.6" fill="#000"/>
<text transform="translate(94.3,64.8) scale(1,1.03)" font-size="9.1" fill="#000">CMS</text>
<line x1="64" y1="75.50" x2="89" y2="75.50" stroke="#1fcf86" stroke-width="1.1" stroke-dasharray="2.5,1.7"/>
<path d="M76.40,72.90 L79.00,75.50 L76.40,78.10 L73.80,75.50Z" fill="#1fcf86"/>
<text transform="translate(94.3,77.80000000000001) scale(1,1.05)" font-size="9.1" letter-spacing="0.12" fill="#000">Pythia 6.423 d6t</text>
<line x1="64" y1="88.50" x2="89" y2="88.50" stroke="#ff7f2e" stroke-width="1.1" stroke-dasharray="4,1.5,1,1.5"/>
<rect x="74.00" y="86.10" width="4.80" height="4.80" fill="#ff7f2e"/>
<text transform="translate(94.3,90.80000000000001) scale(1,1.05)" font-size="9.1" letter-spacing="0.12" fill="#000">Pythia 6.423 default</text>
<line x1="64" y1="101.50" x2="89" y2="101.50" stroke="#16b016" stroke-width="1.1" stroke-dasharray="2.6,1.6"/>
<path d="M73.70,99.47 L79.10,99.47 L76.40,103.80Z" fill="#16b016"/>
<text transform="translate(94.3,103.80000000000001) scale(1,1.05)" font-size="9.1" letter-spacing="0.12" fill="#000">Pythia 6.423 dw</text>
<line x1="64" y1="114.50" x2="89" y2="114.50" stroke="#404040" stroke-width="1.1"/>
<circle cx="76.40" cy="114.50" r="2.30" fill="none" stroke="#404040" stroke-width="1"/>
<text transform="translate(94.3,116.80000000000001) scale(1,1.05)" font-size="9.1" letter-spacing="0.12" fill="#000">Pythia 6.423 p0</text>
<text x="40" y="268" font-size="11.5" text-anchor="end">10</text>
<text x="35.5" y="174.40" font-size="10.8" text-anchor="end">10</text>
<text x="35.0" y="168.30" font-size="7.5">2</text>
<text x="35.5" y="79.00" font-size="10.8" text-anchor="end">10</text>
<text x="35.0" y="72.90" font-size="7.5">3</text>
<text x="38.6" y="341.68" font-size="12" text-anchor="end">2</text>
<text x="374.0" y="341.68" font-size="12">2</text>
<text x="38.6" y="402.70" font-size="12" text-anchor="end">1</text>
<text x="374.0" y="402.70" font-size="12">1</text>
<text x="38.6" y="463.72" font-size="12" text-anchor="end">0.5</text>
<text x="374.0" y="463.72" font-size="12">0.5</text>
<text x="51.60" y="489.5" font-size="12" text-anchor="middle">0</text>
<text x="151.45" y="489.5" font-size="12" text-anchor="middle">1</text>
<text x="251.30" y="489.5" font-size="12" text-anchor="middle">2</text>
<text x="351.15" y="489.5" font-size="12" text-anchor="middle">3</text>
<text x="371.4" y="504" font-size="11.7" text-anchor="end" letter-spacing="0.2">Δϕ (Z,j1)</text>
<text x="166.3" y="301.8" font-size="8" fill="#a8a8a8">(CMS_2021_I1866118)</text>
<text transform="translate(17.7,423.0) rotate(-90)" font-size="9.1">Ratio to CMS</text>
<text transform="translate(380.6,128.2) rotate(-90)" font-size="9.3" fill="#707070" letter-spacing="0.1">Rivet 4.1.0, ≥ 100k events</text>
<text transform="translate(381,314.8) rotate(-90)" font-size="9.3" fill="#707070" letter-spacing="0.1">mcplots.cern.ch [arXiv:2401.10621]</text>
<g transform="translate(0,0)">
<text transform="translate(13.6,63.5) rotate(-90)" font-size="11">#</text>
<line x1="10.6" y1="17.2" x2="10.6" y2="56.3" stroke="#000" stroke-width="1"/>
<text transform="translate(8.6,44.2) rotate(-90)" font-size="11">dσ</text>
<text transform="translate(22.6,57.5) rotate(-90)" font-size="11">d(Δϕ</text>
<text transform="translate(15.2,32.5) rotate(-90)" font-size="7">Z,j1</text>
<text transform="translate(22.6,21.5) rotate(-90)" font-size="11">)</text>
</g>
</svg></body></html>
